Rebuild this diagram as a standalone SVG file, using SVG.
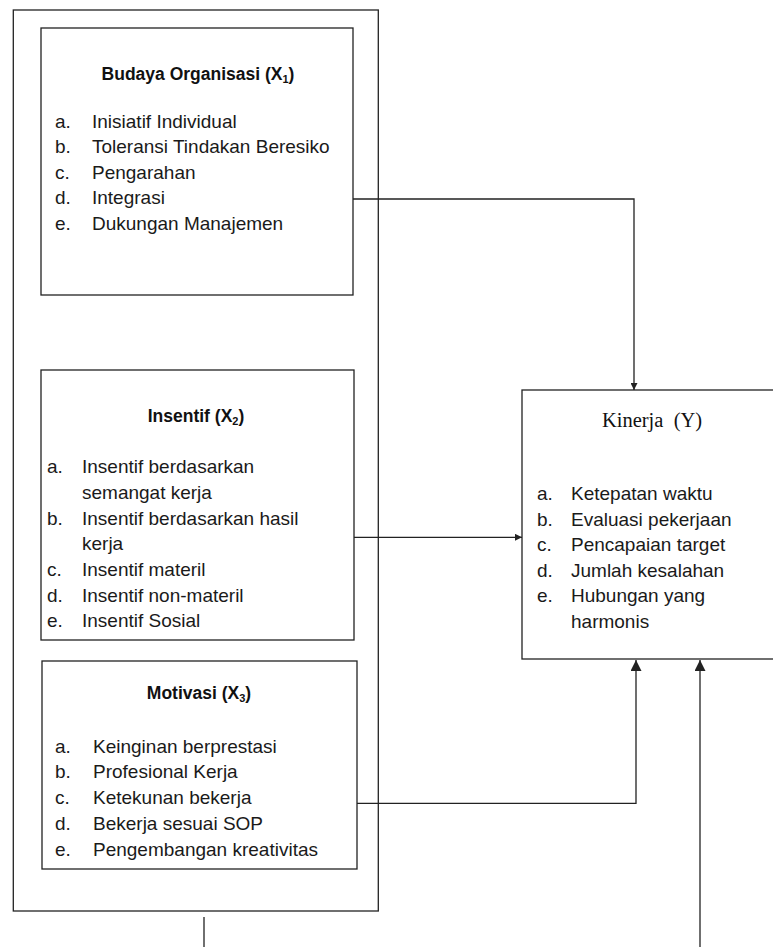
<svg xmlns="http://www.w3.org/2000/svg" width="773" height="947" viewBox="0 0 773 947">
<style>
.box{fill:#fff;stroke:#222;stroke-width:1.3}
.t{font-family:"Liberation Sans",Arial,sans-serif;font-size:19px;fill:#1a1a1a}
.h{font-family:"Liberation Sans",Arial,sans-serif;font-size:17.5px;font-weight:bold;fill:#111;text-anchor:middle}
.sub{font-size:11px}
.y{font-family:"Liberation Serif","Times New Roman",serif;font-size:20.5px;fill:#111;text-anchor:middle}
.c{fill:none;stroke:#222;stroke-width:1.3}
</style>
<defs>
<marker id="as" markerUnits="userSpaceOnUse" markerWidth="8" markerHeight="7" refX="7" refY="3.5" orient="auto"><path d="M0,0 L7,3.5 L0,7 z" fill="#222"/></marker>
<marker id="al" markerUnits="userSpaceOnUse" markerWidth="12" markerHeight="11" refX="11" refY="5.5" orient="auto"><path d="M0,0 L11,5.5 L0,11 z" fill="#222"/></marker>
</defs>
<rect width="773" height="947" fill="#fff"/>
<g id="outer"><rect class="box" x="13.3" y="10" width="365" height="901"/></g>
<g id="budaya">
<rect class="box" x="41" y="28" width="312" height="267"/>
<text class="h" x="198" y="80">Budaya Organisasi (X<tspan class="sub" dy="3">1</tspan><tspan dy="-3">)</tspan></text>
<text class="t" x="55" y="127.5">a.</text><text class="t" x="92" y="127.5">Inisiatif Individual</text>
<text class="t" x="55" y="153">b.</text><text class="t" x="92" y="153">Toleransi Tindakan Beresiko</text>
<text class="t" x="55" y="178.5">c.</text><text class="t" x="92" y="178.5">Pengarahan</text>
<text class="t" x="55" y="204">d.</text><text class="t" x="92" y="204">Integrasi</text>
<text class="t" x="55" y="229.5">e.</text><text class="t" x="92" y="229.5">Dukungan Manajemen</text>
</g>
<g id="insentif">
<rect class="box" x="41" y="370" width="313" height="270"/>
<text class="h" x="196" y="422">Insentif (X<tspan class="sub" dy="3">2</tspan><tspan dy="-3">)</tspan></text>
<text class="t" x="47" y="473">a.</text><text class="t" x="82" y="473">Insentif berdasarkan</text>
<text class="t" x="82" y="498.5">semangat kerja</text>
<text class="t" x="47" y="525">b.</text><text class="t" x="82" y="525">Insentif berdasarkan hasil</text>
<text class="t" x="82" y="550">kerja</text>
<text class="t" x="47" y="576">c.</text><text class="t" x="82" y="576">Insentif materil</text>
<text class="t" x="47" y="601.5">d.</text><text class="t" x="82" y="601.5">Insentif non-materil</text>
<text class="t" x="47" y="627">e.</text><text class="t" x="82" y="627">Insentif Sosial</text>
</g>
<g id="motivasi">
<rect class="box" x="42" y="661" width="315" height="208"/>
<text class="h" x="199" y="699">Motivasi (X<tspan class="sub" dy="3">3</tspan><tspan dy="-3">)</tspan></text>
<text class="t" x="55" y="752.5">a.</text><text class="t" x="93" y="752.5">Keinginan berprestasi</text>
<text class="t" x="55" y="778">b.</text><text class="t" x="93" y="778">Profesional Kerja</text>
<text class="t" x="55" y="804">c.</text><text class="t" x="93" y="804">Ketekunan bekerja</text>
<text class="t" x="55" y="830">d.</text><text class="t" x="93" y="830">Bekerja sesuai SOP</text>
<text class="t" x="55" y="855.5">e.</text><text class="t" x="93" y="855.5">Pengembangan kreativitas</text>
</g>
<g id="kinerja">
<rect class="box" x="522" y="390" width="270" height="269"/>
<text class="y" x="652" y="427">Kinerja &#160;(Y)</text>
<text class="t" x="537" y="500">a.</text><text class="t" x="571" y="500">Ketepatan waktu</text>
<text class="t" x="537" y="525.5">b.</text><text class="t" x="571" y="525.5">Evaluasi pekerjaan</text>
<text class="t" x="537" y="551">c.</text><text class="t" x="571" y="551">Pencapaian target</text>
<text class="t" x="537" y="576.5">d.</text><text class="t" x="571" y="576.5">Jumlah kesalahan</text>
<text class="t" x="537" y="602">e.</text><text class="t" x="571" y="602">Hubungan yang</text>
<text class="t" x="571" y="627.5">harmonis</text>
</g>
<g id="connectors">
<polyline class="c" points="353,199 634,199 634,390" marker-end="url(#as)"/>
<line class="c" x1="354" y1="537.3" x2="522" y2="537.3" marker-end="url(#as)"/>
<polyline class="c" points="357,803.3 636,803.3 636,660" marker-end="url(#al)"/>
<line class="c" x1="700" y1="947" x2="700" y2="660" marker-end="url(#al)"/>
<line class="c" x1="204" y1="917" x2="204" y2="947"/>
</g>
</svg>
